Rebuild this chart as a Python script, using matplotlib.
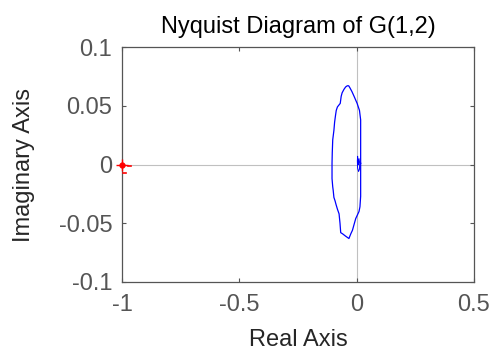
import matplotlib.pyplot as plt
import numpy as np

plt.rcParams['font.family'] = ['Liberation Sans', 'DejaVu Sans']

# Nyquist curve (real, imag)
re_main = [0.017, 0.017, 0.017, 0.012, 0.002, -0.011, -0.020, -0.028, -0.034, -0.040,
           -0.047, -0.054, -0.062, -0.066, -0.068, -0.070, -0.082, -0.087, -0.090, -0.094,
           -0.097, -0.102, -0.104, -0.105, -0.105, -0.102, -0.100, -0.097, -0.092, -0.088,
           -0.082, -0.075, -0.071, -0.068, -0.060, -0.047, -0.040, -0.033, -0.025, -0.018,
           -0.004, 0.010, 0.014, 0.017, 0.017, 0.017]
im_main = [0.001, 0.020, 0.038, 0.046, 0.052, 0.058, 0.062, 0.065, 0.067, 0.067,
           0.066, 0.064, 0.061, 0.058, 0.055, 0.052, 0.049, 0.046, 0.042, 0.036,
           0.029, 0.021, 0.010, 0.001, -0.012, -0.019, -0.022, -0.028, -0.031, -0.034,
           -0.038, -0.042, -0.050, -0.058, -0.059, -0.061, -0.062, -0.063, -0.059, -0.056,
           -0.046, -0.040, -0.036, -0.027, -0.012, 0.001]

# small loop near the origin
re_loop = [0.007, 0.010, 0.013, 0.012, 0.008, 0.004, 0.003, 0.004, 0.007]
im_loop = [0.000, 0.005, 0.001, -0.004, -0.006, -0.003, 0.003, 0.007, 0.000]

xticks = [-1, -0.5, 0, 0.5]
yticks = [-0.1, -0.05, 0, 0.05, 0.1]
xlabels = ['-1', '-0.5', '0', '0.5']
ylabels = ['-0.1', '-0.05', '0', '0.05', '0.1']

grey = '#555555'
fs = 17

fig = plt.figure(figsize=(4.97, 3.58), dpi=100)
ax = fig.add_axes([0.2455, 0.2123, 0.7082, 0.6564])

ax.axhline(0, color='#c0c0c0', lw=0.8, zorder=1)
ax.axvline(0, color='#c0c0c0', lw=0.8, zorder=1)

ax.plot(re_main, im_main, color='#0000ff', lw=0.9, zorder=3)
ax.plot(re_loop, im_loop, color='#0000ff', lw=0.7, zorder=3)

# critical point -1
ax.plot([-1], [0], marker='+', color='red', ms=8, mew=1.0, zorder=4, clip_on=False)
ax.plot([-1], [0], marker='o', color='red', ms=3.5, zorder=4, clip_on=False)
ax.plot([-0.975, -0.96], [-0.001, -0.001], color='red', lw=1.2, zorder=4)
ax.plot([-0.995, -0.985], [-0.007, -0.007], color='red', lw=1.2, zorder=4)

ax.set_xlim(-1, 0.5)
ax.set_ylim(-0.1, 0.1)
ax.set_xticks(xticks)
ax.set_xticklabels(xlabels)
ax.set_yticks(yticks)
ax.set_yticklabels(ylabels)
ax.tick_params(direction='in', length=3, width=0.8, color=grey, labelcolor=grey,
               labelsize=fs, top=True, right=True)
ax.tick_params(axis='x', pad=9)
ax.tick_params(axis='y', pad=7)
for s in ax.spines.values():
    s.set_color(grey)
    s.set_linewidth(0.9)

ax.set_title('Nyquist Diagram of G(1,2)', fontsize=fs, color='black', pad=10)
ax.set_xlabel('Real Axis', fontsize=fs, color='#262626', labelpad=9)
ax.set_ylabel('Imaginary Axis', fontsize=fs, color='#262626', labelpad=17)

fig.savefig('out.png', dpi=100)
